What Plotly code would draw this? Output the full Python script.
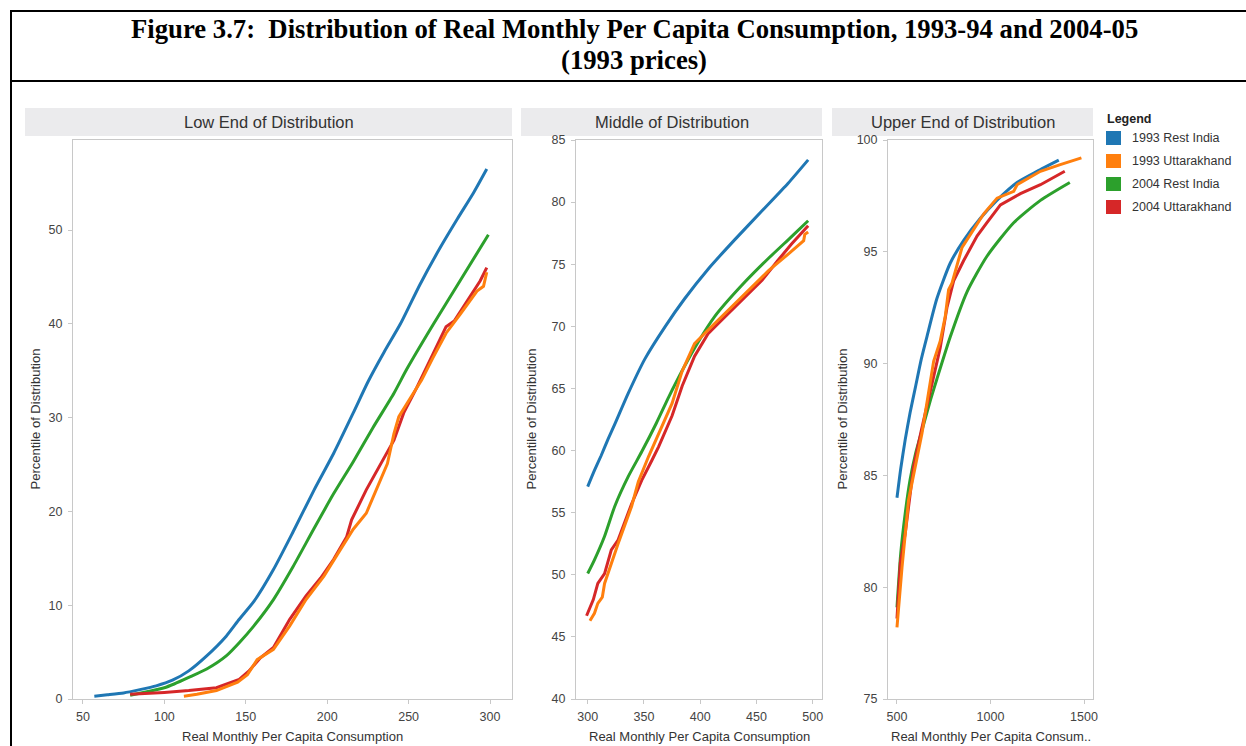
import plotly.graph_objects as go

W, H = 1246, 746


def fx(px):
    return px / W


def fy(py):
    return 1 - py / H


SERIES = ["1993 Rest India", "1993 Uttarakhand", "2004 Rest India", "2004 Uttarakhand"]
COLORS = ["#1f77b4", "#ff7f0e", "#2ca02c", "#d62728"]
# the large-sample Rest India curves are smooth; the state curves stay jagged
SMOOTH = [True, False, True, False]

# ---- Low end of distribution -------------------------------------------
LOW_RI93_X = [57, 65, 75, 85, 95, 105, 115, 126, 138, 146, 155, 167, 179, 192, 204, 216, 225, 235, 245, 257, 269, 280, 290, 298]
LOW_RI93_Y = [0.3, 0.45, 0.65, 1.0, 1.4, 2.0, 3.0, 4.6, 6.7, 8.5, 10.4, 13.8, 17.8, 22.3, 26.2, 30.5, 33.8, 37.0, 40.0, 44.2, 48.0, 51.2, 54.0, 56.5]
LOW_UK93_X = [112, 120, 132, 145, 151, 157, 167, 177, 187, 198, 208, 216, 224, 230, 237, 241, 244, 249, 258, 265, 273, 282, 292, 296, 298]
LOW_UK93_Y = [0.3, 0.5, 0.9, 1.8, 2.6, 4.2, 5.3, 7.8, 10.6, 13.1, 15.9, 18.1, 19.8, 22.3, 25.1, 28.3, 30.1, 31.5, 34.0, 36.4, 39.0, 41.1, 43.5, 44.0, 45.5]
LOW_RI04_X = [79, 90, 100, 106, 115, 126, 138, 146, 155, 167, 179, 192, 204, 216, 228, 241, 249, 265, 282, 299]
LOW_RI04_Y = [0.4, 0.8, 1.2, 1.6, 2.3, 3.2, 4.6, 6.0, 7.8, 10.6, 14.1, 18.2, 21.9, 25.3, 28.9, 32.6, 35.2, 39.9, 44.7, 49.5]
LOW_UK04_X = [79, 85, 100, 115, 132, 146, 152, 159, 167, 177, 187, 196, 204, 212, 215, 224, 233, 241, 247, 255, 265, 273, 278, 286, 294, 298]
LOW_UK04_Y = [0.5, 0.55, 0.7, 0.9, 1.2, 2.1, 3.0, 4.4, 5.5, 8.5, 11.0, 12.9, 14.9, 17.3, 19.1, 22.3, 25.1, 27.6, 30.5, 33.2, 36.8, 39.7, 40.3, 42.5, 44.6, 46.0]

# ---- Middle of distribution --------------------------------------------
MID_RI93_X = [300, 306, 312, 318, 324, 336, 351, 369, 386, 407, 431, 455, 478, 496]
MID_RI93_Y = [57.1, 58.4, 59.6, 60.9, 62.1, 64.6, 67.4, 70.0, 72.2, 74.6, 77.0, 79.3, 81.5, 83.4]
MID_UK93_X = [302, 306, 309, 313, 315, 321, 327, 339, 345, 354, 363, 375, 384, 395, 407, 425, 443, 461, 478, 492, 493, 496]
MID_UK93_Y = [46.3, 46.9, 47.7, 48.2, 49.3, 50.9, 52.5, 55.5, 57.5, 59.5, 61.3, 63.8, 66.4, 68.6, 69.7, 71.3, 72.9, 74.5, 75.8, 76.9, 77.4, 77.6]
MID_RI04_X = [300, 306, 315, 324, 336, 348, 361, 372, 385, 398, 413, 437, 461, 481, 496]
MID_RI04_Y = [50.1, 51.2, 53.1, 55.5, 57.9, 59.9, 62.2, 64.3, 66.6, 68.7, 70.8, 73.3, 75.5, 77.2, 78.5]
MID_UK04_X = [299, 305, 309, 315, 321, 327, 339, 348, 357, 363, 375, 384, 395, 407, 419, 437, 455, 469, 481, 496]
MID_UK04_Y = [46.7, 48.0, 49.3, 50.1, 52.0, 52.8, 55.7, 57.6, 59.2, 60.3, 62.8, 65.2, 67.6, 69.4, 70.5, 72.1, 73.7, 75.3, 76.6, 78.1]

# ---- Upper end of distribution -----------------------------------------
UP_RI93_X = [500, 520, 544, 570, 600, 630, 660, 713, 785, 856, 946, 1034, 1142, 1249, 1365]
UP_RI93_Y = [84.0, 85.3, 86.6, 87.8, 89.0, 90.2, 91.2, 92.9, 94.5, 95.5, 96.5, 97.3, 98.1, 98.6, 99.1]
UP_UK93_X = [500, 527, 562, 600, 634, 696, 731, 758, 776, 794, 848, 910, 964, 1035, 1124, 1142, 1267, 1373, 1486]
UP_UK93_Y = [78.2, 80.9, 83.9, 85.5, 86.9, 90.1, 91.0, 92.1, 93.3, 93.6, 95.2, 96.0, 96.7, 97.4, 97.7, 98.0, 98.6, 98.9, 99.2]
UP_RI04_X = [500, 520, 544, 570, 600, 640, 680, 713, 785, 874, 981, 1124, 1267, 1424]
UP_RI04_Y = [79.1, 81.5, 83.3, 84.8, 86.0, 87.2, 88.4, 89.3, 91.2, 93.2, 94.8, 96.3, 97.3, 98.1]
UP_UK04_X = [500, 518, 544, 589, 630, 651, 700, 731, 767, 803, 856, 928, 981, 1053, 1160, 1267, 1397]
UP_UK04_Y = [78.6, 81.1, 82.4, 85.4, 87.0, 87.8, 89.6, 90.7, 92.5, 93.7, 94.6, 95.7, 96.3, 97.1, 97.6, 98.0, 98.6]

PANELS = [
    ("Low End of Distribution", "Real Monthly Per Capita Consumption",
     [(LOW_RI93_X, LOW_RI93_Y), (LOW_UK93_X, LOW_UK93_Y), (LOW_RI04_X, LOW_RI04_Y), (LOW_UK04_X, LOW_UK04_Y)]),
    ("Middle of Distribution", "Real Monthly Per Capita Consumption",
     [(MID_RI93_X, MID_RI93_Y), (MID_UK93_X, MID_UK93_Y), (MID_RI04_X, MID_RI04_Y), (MID_UK04_X, MID_UK04_Y)]),
    ("Upper End of Distribution", "Real Monthly Per Capita Consum..",
     [(UP_RI93_X, UP_RI93_Y), (UP_UK93_X, UP_UK93_Y), (UP_RI04_X, UP_RI04_Y), (UP_UK04_X, UP_UK04_Y)]),
]

X_TICKS = [[50, 100, 150, 200, 250, 300], [300, 350, 400, 450, 500], [500, 1000, 1500]]
Y_TICKS = [[0, 10, 20, 30, 40, 50], [40, 45, 50, 55, 60, 65, 70, 75, 80, 85], [75, 80, 85, 90, 95, 100]]
X_RANGES = [[43.9, 313.5], [289.6, 508.3], [452, 1548]]
Y_RANGES = [[0, 59.6], [40, 85], [75, 100]]

# pixel geometry of the panes: plot area left/right, header left
PLOT_LR = [(73, 512), (576, 822), (888, 1093)]
HEADER_L = [25, 521, 832]
YTITLE_X = [35, 531, 842]
PLOT_TOP, PLOT_BOTTOM = 140, 699

AXIS_FONT = dict(family="Liberation Sans, Arial, sans-serif", size=12.5, color="#444444")
TEXT_COLOR = "#333333"
DRAW_ORDER = [0, 2, 3, 1]

fig = go.Figure()
layout = dict(
    width=W, height=H,
    margin=dict(l=0, r=0, t=0, b=0),
    paper_bgcolor="white", plot_bgcolor="white",
    showlegend=False,
)

shapes = []
annotations = []

for i, (header, xtitle, series) in enumerate(PANELS):
    n = "" if i == 0 else str(i + 1)
    xa, ya = "x" + n, "y" + n
    for k in DRAW_ORDER:
        xs, ys = series[k]
        line = dict(color=COLORS[k], width=3)
        if SMOOTH[k]:
            line.update(shape="spline", smoothing=0.6)
        fig.add_trace(go.Scatter(
            x=xs, y=ys, mode="lines", name=SERIES[k], line=line,
            xaxis=xa, yaxis=ya, hoverinfo="x+y+name",
        ))
    left, right = PLOT_LR[i]
    common = dict(
        showgrid=False, zeroline=False, showline=True, mirror=True,
        linecolor="#c8c8c8", linewidth=1, ticks="outside", ticklen=4,
        tickcolor="#c8c8c8", tickfont=AXIS_FONT, automargin=False,
    )
    layout["xaxis" + n] = dict(
        domain=[fx(left), fx(right)], range=X_RANGES[i], anchor=ya,
        tickvals=X_TICKS[i], ticklabelstandoff=2, **common,
    )
    layout["yaxis" + n] = dict(
        domain=[fy(PLOT_BOTTOM), fy(PLOT_TOP)], range=Y_RANGES[i], anchor=xa,
        tickvals=Y_TICKS[i], ticklabelstandoff=3, **common,
    )
    # facet header band
    shapes.append(dict(
        type="rect", xref="paper", yref="paper",
        x0=fx(HEADER_L[i]), x1=fx(right), y0=fy(136), y1=fy(108),
        fillcolor="#ebebed", line=dict(width=0), layer="below",
    ))
    annotations.append(dict(
        text=header, xref="paper", yref="paper",
        x=fx((HEADER_L[i] + right) / 2), y=fy(122),
        xanchor="center", yanchor="middle", showarrow=False,
        font=dict(family="Liberation Sans, Arial, sans-serif", size=16.5, color=TEXT_COLOR),
    ))
    annotations.append(dict(
        text=xtitle, xref="paper", yref="paper",
        x=fx((left + right) / 2), y=fy(736),
        xanchor="center", yanchor="middle", showarrow=False,
        font=dict(family="Liberation Sans, Arial, sans-serif", size=13, color=TEXT_COLOR),
    ))
    annotations.append(dict(
        text="Percentile of Distribution", xref="paper", yref="paper",
        x=fx(YTITLE_X[i]), y=fy((PLOT_TOP + PLOT_BOTTOM) / 2), textangle=-90,
        xanchor="center", yanchor="middle", showarrow=False,
        font=dict(family="Liberation Sans, Arial, sans-serif", size=13, color=TEXT_COLOR),
    ))

# legend block
annotations.append(dict(
    text="<b>Legend</b>", xref="paper", yref="paper",
    x=fx(1105), y=fy(119), xanchor="left", yanchor="middle", showarrow=False,
    font=dict(family="Liberation Sans, Arial, sans-serif", size=12.5, color="#222222"),
))
for k, name in enumerate(SERIES):
    cy = 138 + 23 * k
    shapes.append(dict(
        type="rect", xref="paper", yref="paper",
        x0=fx(1106), x1=fx(1121), y0=fy(cy + 7), y1=fy(cy - 7),
        fillcolor=COLORS[k], line=dict(width=0),
    ))
    annotations.append(dict(
        text=name, xref="paper", yref="paper",
        x=fx(1130), y=fy(cy), xanchor="left", yanchor="middle", showarrow=False,
        font=dict(family="Liberation Sans, Arial, sans-serif", size=12.5, color=TEXT_COLOR),
    ))

# figure caption box
TITLE_FONT = dict(family="Liberation Serif, Times New Roman, serif", size=26.7, color="black")
annotations.append(dict(
    text="<b>Figure 3.7:\u00a0 Distribution of Real Monthly Per Capita Consumption, 1993-94 and 2004-05</b>",
    xref="paper", yref="paper", x=fx(634), y=fy(29),
    xanchor="center", yanchor="middle", showarrow=False, font=TITLE_FONT,
))
annotations.append(dict(
    text="<b>(1993 prices)</b>", xref="paper", yref="paper", x=fx(634), y=fy(60),
    xanchor="center", yanchor="middle", showarrow=False, font=TITLE_FONT,
))
for x0, y0, x1, y1 in [(11, 11, W + 2, 11), (11, 81, W + 2, 81), (11, 10, 11, H + 2)]:
    shapes.append(dict(
        type="line", xref="paper", yref="paper",
        x0=fx(x0), y0=fy(y0), x1=fx(x1), y1=fy(y1),
        line=dict(color="black", width=2),
    ))

layout["shapes"] = shapes
layout["annotations"] = annotations
fig.update_layout(**layout)
fig.write_html("out.html")
